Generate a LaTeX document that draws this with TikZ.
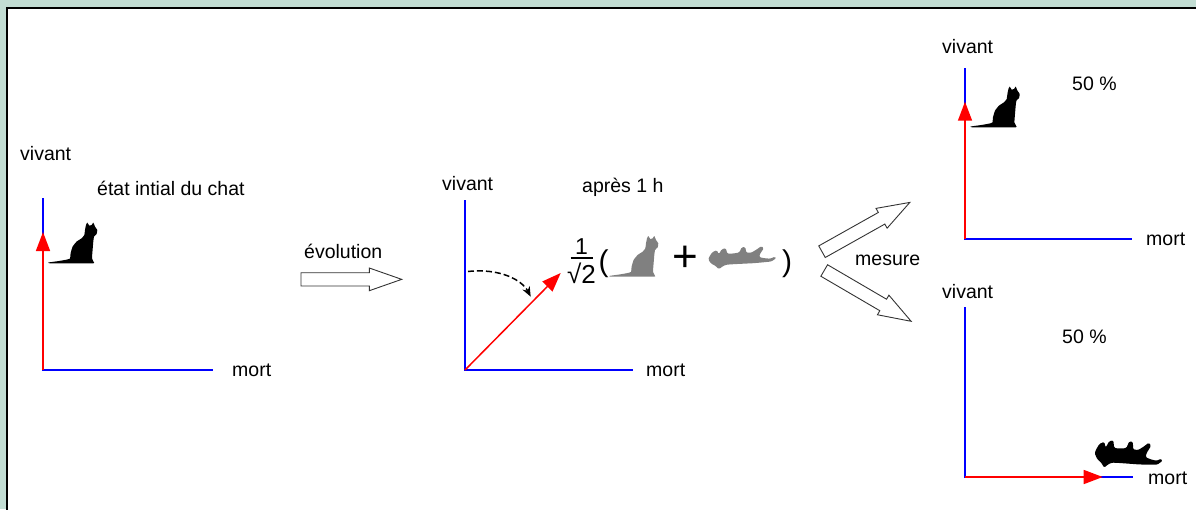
\documentclass[tikz,border=0pt]{standalone}
\usepackage{fontspec}
\setmainfont{Liberation Sans}
\usetikzlibrary{arrows.meta}
\definecolor{framebg}{RGB}{194,221,211}
\definecolor{catgray}{RGB}{128,128,128}

\tikzset{
  lbl/.style={inner sep=0pt, anchor=base west, font=\fontsize{19.5}{23}\selectfont},
  axis/.style={draw=blue, line width=1.8pt},
  vec/.style={draw=red, line width=1.5pt, -{Triangle[length=19pt,width=14pt]}},
  hollow/.style={draw=black!80, fill=white, line width=0.9pt, line join=miter},
  % sitting cat, origin at the tip of the tail on the ground
  sitcat/.pic={
    \path[pic actions] plot[smooth cycle, tension=0.25] coordinates {
      (0,-0.8) (10,-2.2) (18,-3.6) (21.7,-4.8) (22.3,-10) (24.3,-16.7)
      (28.3,-21.7) (33.3,-25) (36,-28.3) (36.7,-33.3) (37.7,-38.3) (39,-40.7)
      (41,-37.6) (43.3,-38.3) (45,-40.7) (46.7,-36.7) (49,-33.3) (48.3,-29.3)
      (45.7,-26.7) (45,-21.7) (44.3,-13.3) (43.7,-5) (45.5,-1.2) (45,0) (20,0) (1.5,0)};
  },
  % cat lying on its back, paws up, origin at the left end of the head
  lycat/.pic={
    \path[pic actions, rounded corners=1.2pt]
      (0,0) -- (3,-4.5) -- (7.5,-6.5) -- (9.5,-2.5) -- (12.5,-7.5) -- (16.5,-8.5)
      -- (18,-3) -- (24,-3.2) -- (30,-4.2) -- (32.5,-9.5) -- (36,-9.5)
      -- (37,-4) -- (42,-4) -- (47,-7) -- (52,-10.5) -- (54.5,-8.5)
      -- (50.5,-2.5) -- (50,0.5) -- (55,1.5) -- (61,2) -- (65.5,0)
      -- (67,1.5) -- (62,4.8) -- (52,5.8) -- (44,6.5) -- (34,7) -- (24,7.5)
      -- (17,8) -- (13.5,9.5) -- (9.5,12.5) -- (6,9) -- (2,7) -- (-1,3) -- cycle;
  },
  % hollow block arrow, origin at the middle of the tail end
  hollowarrow/.pic={
    \path[pic actions] (0,-6.65) -- (68.3,-6.65) -- (68.3,-11.35) -- (100.7,0)
      -- (68.3,11.35) -- (68.3,6.65) -- (0,6.65) -- cycle;
  }
}

\begin{document}
\begin{tikzpicture}[x=1pt, y=-1pt]
  \useasboundingbox (0,0) rectangle (1196,509);
  \fill[framebg] (0,0) rectangle (1196,509);
  \filldraw[fill=white, draw=black, line width=2pt] (7,7.7) rectangle (1210,520);

  % ---- initial state ----
  \coordinate (o1) at (43,370);
  \coordinate (y1) at (43,198);
  \coordinate (x1) at (213,370);
  \coordinate (v1) at (43,232);
  \draw[axis] (y1) -- (o1) -- (x1);
  \draw[vec] (o1) -- (v1);
  \pic[fill=black] (cat1) at (48.3,263.3) {sitcat};
  \node[lbl] (viv1) at (20,160) {vivant};
  \node[lbl] (init) at (97,195) {état intial du chat};
  \node[lbl] (mort1) at (232,376.5) {mort};

  % ---- evolution ----
  \node[lbl] (evo) at (304,258) {évolution};
  \pic[hollow] (evarrow) at (301,279.35) {hollowarrow};

  % ---- after one hour ----
  \coordinate (o2) at (465,370);
  \coordinate (y2) at (465,200);
  \coordinate (x2) at (633,370);
  \coordinate (v2) at (560.7,273);
  \draw[axis] (y2) -- (o2) -- (x2);
  \draw[vec] (o2) -- (v2);
  \coordinate (r0) at (468,271.5);
  \coordinate (r1) at (530.7,296.7);
  \draw[line width=1.5pt, dash pattern=on 6pt off 3pt, -{Stealth[length=10pt,width=8pt]}]
    (r0) .. controls (500,268) and (522,280) .. (r1);
  \node[lbl] (viv2) at (442,190) {vivant};
  \node[lbl] (apres) at (582,192) {après 1 h};
  \node[lbl] (mort2) at (646,376) {mort};

  % superposition
  \node[inner sep=0pt, anchor=base, font=\fontsize{23}{25}\selectfont] (num) at (581.5,254.5) {1};
  \draw[line width=1.4pt] (570.5,257.8) -- (592.5,257.8);
  \node[inner sep=0pt, anchor=base, font=\fontsize{26}{28}\selectfont] (den) at (581.5,283.5) {√2};
  \node[inner sep=0pt, anchor=base, font=\fontsize{30}{32}\selectfont] (lpar) at (603.5,271) {(};
  \pic[fill=catgray] (cat2) at (609.3,276.7) {sitcat};
  \node[inner sep=0pt, anchor=center, font=\fontsize{44}{46}\selectfont] (plus) at (685,259) {+};
  \pic[fill=catgray] (cat3) at (709.3,256.7) {lycat};
  \node[inner sep=0pt, anchor=base, font=\fontsize{30}{32}\selectfont] (rpar) at (787,271) {)};

  % ---- measurement ----
  \pic[hollow, rotate=29.3] (mup) at (822,251.7) {hollowarrow};
  \pic[hollow, rotate=-30.3] (mdown) at (824.2,270.5) {hollowarrow};
  \node[lbl] (mes) at (855,265.5) {mesure};

  % alive outcome
  \coordinate (o3) at (965,239);
  \coordinate (y3) at (965,68);
  \coordinate (x3) at (1132,239);
  \coordinate (v3) at (965,101.7);
  \draw[axis] (y3) -- (o3) -- (x3);
  \draw[vec] (o3) -- (v3);
  \pic[fill=black] (cat4) at (970.7,127.3) {sitcat};
  \node[lbl] (viv3) at (942,53) {vivant};
  \node[lbl] (pc3) at (1072,90) {50 \%};
  \node[lbl] (mort3) at (1146,245.5) {mort};

  % dead outcome
  \coordinate (o4) at (965,477);
  \coordinate (y4) at (965,307);
  \coordinate (x4) at (1133,477);
  \coordinate (v4) at (1102.7,477);
  \draw[axis] (y4) -- (o4) -- (x4);
  \draw[vec] (o4) -- (v4);
  \pic[fill=black, yscale=1.35, rotate=-6] (cat5) at (1096,449.5) {lycat};
  \node[lbl] (viv4) at (942,298) {vivant};
  \node[lbl] (pc4) at (1062,343) {50 \%};
  \node[lbl] (mort4) at (1148,484) {mort};
\end{tikzpicture}
\end{document}
